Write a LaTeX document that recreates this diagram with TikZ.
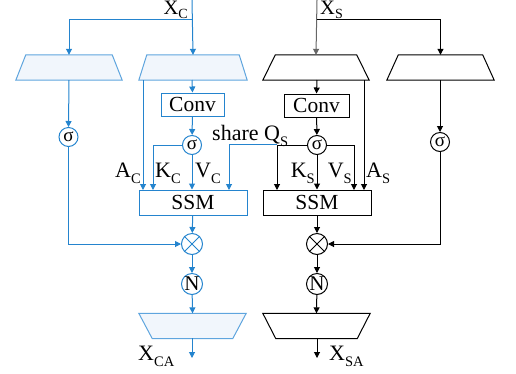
\documentclass[tikz,border=0pt]{standalone}
\usepackage{fontspec}
\setmainfont{Liberation Serif}
\usetikzlibrary{arrows.meta}
\definecolor{bl}{RGB}{36,132,206}
\definecolor{blb}{RGB}{95,165,222}
\definecolor{blf}{RGB}{241,246,252}
\newcommand{\sbs}[1]{\raisebox{-0.3em}{\fontsize{14.5}{14.5}\selectfont #1}}
\newcommand{\sbt}[1]{\raisebox{-0.17em}{\fontsize{14}{14}\selectfont #1}}
\newcommand{\mytrap}[6]{%
  \node[minimum width=#4pt,minimum height=25pt,inner sep=0pt] (#2) at (#3) {};
  \draw[#1] ([xshift=#5pt]#2.north west) -- ([xshift=-#5pt]#2.north east) -- ([xshift=-#6pt]#2.south east) -- ([xshift=#6pt]#2.south west) -- cycle;}
\tikzset{
  lbl/.style={inner sep=0pt,font=\fontsize{22}{23}\selectfont},
  toplbl/.style={inner sep=0pt,text height=13.6pt,font=\fontsize{20.5}{21}\selectfont},
  arr/.style={line width=1pt,-{Triangle[length=6pt,width=6pt]}},
  btrap/.style={draw=blb,fill=blf,line width=1pt},
  ktrap/.style={draw=black,line width=1pt},
  boxx/.style={draw,line width=1pt,inner sep=0pt,font=\fontsize{21.5}{22}\selectfont},
  circ/.style={circle,draw,line width=1pt,inner sep=0pt,minimum size=19pt},
}
\begin{document}
\begin{tikzpicture}[x=1pt,y=-1pt]
\useasboundingbox (0,0) rectangle (516,373);
% ---------- blue side ----------
\begin{scope}[color=bl]
\coordinate (xc) at (192,0);
\coordinate (xcb) at (192,19.5);
\mytrap{btrap}{tL}{69,67.5}{106}{10}{0}
\mytrap{btrap}{tC}{193,67.5}{108}{8}{0}
\node[boxx,draw=bl,text=black,minimum width=63pt,minimum height=23pt] (convC) at (192.5,104.5) {Conv};
\node[circ,draw=bl,text=black,font=\fontsize{19}{19}\selectfont] (sC) at (192,145) {σ};
\node[circ,draw=bl,text=black,font=\fontsize{19}{19}\selectfont] (sL) at (68.5,137) {σ};
\node[boxx,draw=bl,text=black,minimum width=108pt,minimum height=25pt] (ssmC) at (193,202.5) {SSM};
\node[circ,draw=bl,minimum size=21pt] (oC) at (192,244) {};
\draw[bl,line width=0.8pt] (oC.north east) -- (oC.south west) (oC.north west) -- (oC.south east);
\node[circ,draw=bl,text=black,minimum size=21pt,font=\fontsize{21}{21}\selectfont] (nC) at (192,284) {N};
\mytrap{btrap}{oCt}{192.5,326}{107}{0}{13.5}
\coordinate (xca) at (192,358);
\coordinate (ac1) at (143,80);
\coordinate (ac2) at (143,190);
\coordinate (kc) at (153,190);
\coordinate (qs1) at (277,144);
\coordinate (qs2) at (229,190);
\draw[arr] (xc) -- (tC.north);
\draw[arr] (xcb) -| (tL.north);
\draw[arr] (192,80) -- (convC.north);
\draw[arr] (convC) -- (sC);
\draw[arr] (sC) -- (sC |- ssmC.north);
\draw[arr] (sC.west) -| (kc);
\draw[arr] (ac1) -- (ac2);
\draw[arr] (qs1) -| (qs2);
\draw[arr] (69,80) -- (sL.north);
\draw[arr] (sL.south) |- (oC.west);
\draw[arr] (ssmC) -- (oC);
\draw[arr] (oC) -- (nC);
\draw[arr] (nC) -- (oCt.north);
\draw[arr] (192,338) -- (xca);
\end{scope}
% ---------- black side ----------
\begin{scope}[color=black]
\coordinate (xs) at (317,0);
\coordinate (xsb) at (317,19.5);
\mytrap{ktrap}{tS}{316,67.5}{106}{12.5}{0}
\mytrap{ktrap}{tR}{440.5,67.5}{107}{11.5}{0}
\node[boxx,minimum width=65pt,minimum height=23pt] (convS) at (316.5,105.5) {Conv};
\node[circ,font=\fontsize{19}{19}\selectfont] (sS) at (317,145) {σ};
\node[circ,font=\fontsize{19}{19}\selectfont] (sR) at (440,142) {σ};
\node[boxx,minimum width=108pt,minimum height=25pt] (ssmS) at (317,202.5) {SSM};
\node[circ,minimum size=21pt] (oS) at (317,244) {};
\draw[line width=0.8pt] (oS.north east) -- (oS.south west) (oS.north west) -- (oS.south east);
\node[circ,minimum size=21pt,font=\fontsize{21}{21}\selectfont] (nS) at (317,284) {N};
\mytrap{ktrap}{oSt}{316.5,326}{107}{0}{13}
\coordinate (xsa) at (317,358);
\coordinate (as1) at (364,80);
\coordinate (as2) at (364,190);
\coordinate (vs) at (354,190);
\coordinate (qs3) at (277,190);
\draw[arr,draw=gray!80!black] (xs) -- (tS.north);
\draw[arr] (xsb) -| (tR.north);
\draw[arr] (317,80) -- (convS.north);
\draw[arr] (convS) -- (sS);
\draw[arr] (sS) -- (sS |- ssmS.north);
\draw[arr] (sS.east) -| (vs);
\draw[arr] (sS.west) -| (qs3);
\draw[arr] (as1) -- (as2);
\draw[arr] (440,80) -- (sR.north);
\draw[arr] (sR.south) |- (oS.east);
\draw[arr] (ssmS) -- (oS);
\draw[arr] (oS) -- (nS);
\draw[arr] (nS) -- (oSt.north);
\draw[arr] (317,338) -- (xsa);
\end{scope}
% ---------- labels ----------
\node[toplbl,anchor=base east] (lxc) at (188,14.8) {X\sbt{C}};
\node[toplbl,anchor=base west] (lxs) at (320,14.8) {X\sbt{S}};
\node[lbl,anchor=base east] (lac) at (141,177) {A\sbs{C}};
\node[lbl,anchor=base west] (lkc) at (155,177) {K\sbs{C}};
\node[lbl,anchor=base west] (lvc) at (195,177) {V\sbs{C}};
\node[lbl,anchor=base west] (lsh) at (212,140) {share Q\sbs{S}};
\node[lbl,anchor=base east] (lks) at (315,177) {K\sbs{S}};
\node[lbl,anchor=base east] (lvs) at (352,177) {V\sbs{S}};
\node[lbl,anchor=base west] (las) at (366,177) {A\sbs{S}};
\node[lbl,anchor=base west] (lxca) at (138,360) {X\sbs{CA}};
\node[lbl,anchor=base west] (lxsa) at (329,360) {X\sbs{SA}};
\end{tikzpicture}
\end{document}
